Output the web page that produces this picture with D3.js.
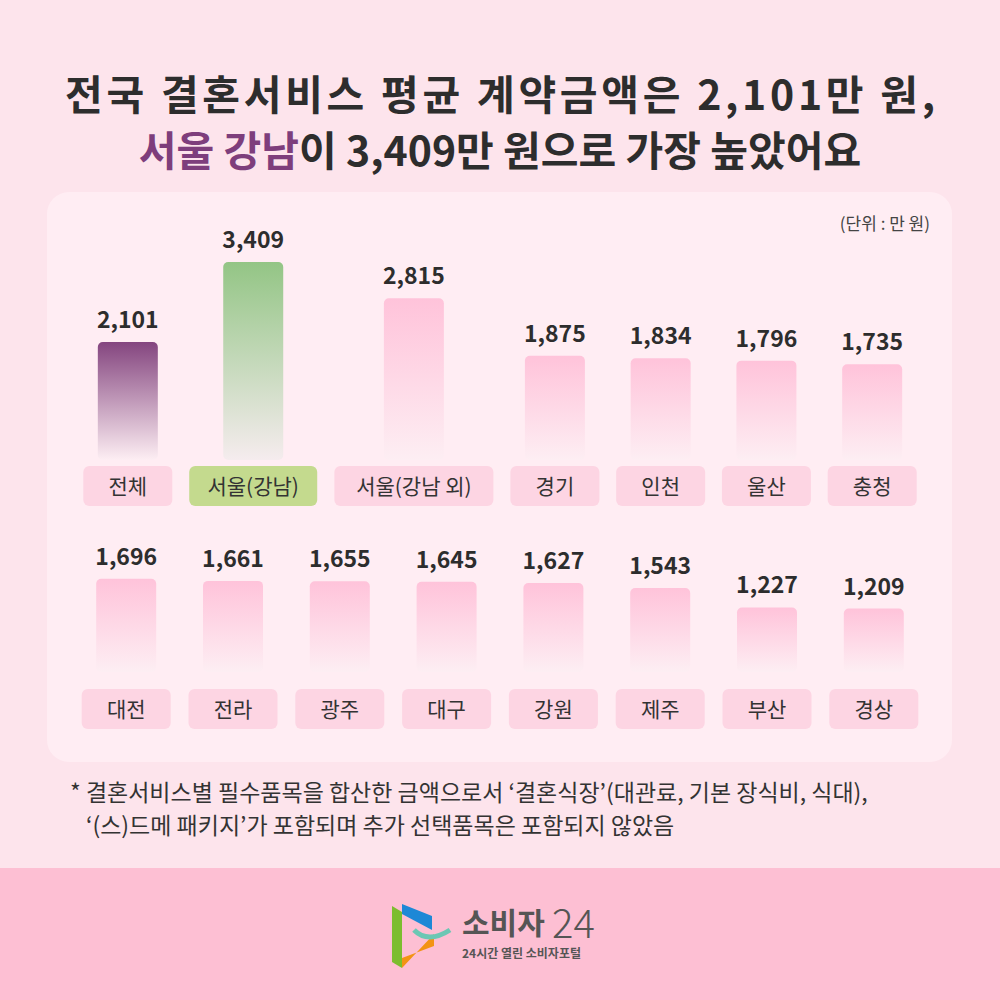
<!DOCTYPE html>
<html><head><meta charset="utf-8">
<script src="https://cdn.jsdelivr.net/npm/d3@7"></script>
<style>body{margin:0;background:#fde4ec;font-family:"Noto Sans CJK KR","Noto Sans",sans-serif}</style>
</head><body><div id="chart"></div>
<script>
const row1Names = ["전체", "서울(강남)", "서울(강남 외)", "경기", "인천", "울산", "충청"];
const row1Values = [2101, 3409, 2815, 1875, 1834, 1796, 1735];
const row2Names = ["대전", "전라", "광주", "대구", "강원", "제주", "부산", "경상"];
const row2Values = [1696, 1661, 1655, 1645, 1627, 1543, 1227, 1209];

const svg = d3.select("#chart").append("svg").attr("width", 1000).attr("height", 1000);
const defs = svg.append("defs");

function grad(id, top, bottom) {
    const g = defs.append("linearGradient").attr("id", id).attr("x1", 0).attr("y1", 0).attr("x2", 0).attr("y2", 1);
    g.append("stop").attr("offset", "0%").attr("stop-color", top);
    g.append("stop").attr("offset", "100%").attr("stop-color", bottom);
}
grad("gPurple", "#84457f", "#fdeef3");
grad("gGreen", "#93c585", "#f5ecee");
grad("gPink", "#ffc3da", "#fdeef3");

svg.append("rect").attr("width", 1000).attr("height", 1000).attr("fill", "#fde4ec");
svg.append("rect").attr("y", 868).attr("width", 1000).attr("height", 132).attr("fill", "#fdbfd3");
svg.append("rect").attr("x", 47).attr("y", 192).attr("width", 905).attr("height", 570)
    .attr("rx", 22).attr("fill", "#ffedf3");

// title
const title = svg.append("g").attr("font-weight", 700).attr("font-size", 41)
    .attr("fill", "#2d2d2d").attr("text-anchor", "middle");
title.append("text").attr("x", 500).attr("y", 110).attr("textLength", 870).text("전국 결혼서비스 평균 계약금액은 2,101만 원,");
const t2 = title.append("text").attr("x", 500).attr("y", 166);
t2.append("tspan").attr("fill", "#7e3e7c").text("서울 강남");
t2.append("tspan").text("이 3,409만 원으로 가장 높았어요");

svg.append("text").attr("x", 930).attr("y", 230).attr("text-anchor", "end")
    .attr("font-size", 17).attr("fill", "#444").text("(단위 : 만 원)");

const y = d3.scaleLinear().domain([171, 3409]).range([0, 198]);
const fmt = d3.format(",");

function drawRow(names, values, centers, labelWidths, baseline, labelTop) {
    const g = svg.append("g");
    names.forEach((n, i) => {
        const cx = centers[i];
        const h = y(values[i]);
        const fill = i === 0 && names === row1Names ? "url(#gPurple)" :
            (i === 1 && names === row1Names ? "url(#gGreen)" : "url(#gPink)");
        g.append("rect").attr("x", cx - 30).attr("y", baseline - h).attr("width", 60)
            .attr("height", h).attr("rx", 5).attr("fill", fill);
        g.append("text").attr("x", cx).attr("y", baseline - h - 14).attr("text-anchor", "middle")
            .attr("font-size", 23).attr("font-weight", 700).attr("fill", "#2d2d2d").text(fmt(values[i]));
        const isG = names === row1Names && i === 1;
        g.append("rect").attr("x", cx - labelWidths[i] / 2).attr("y", labelTop)
            .attr("width", labelWidths[i]).attr("height", 40).attr("rx", 6)
            .attr("fill", isG ? "#c4da8e" : "#fdd5e3");
        g.append("text").attr("x", cx).attr("y", labelTop + 28).attr("text-anchor", "middle")
            .attr("font-size", 21).attr("fill", "#333").text(n);
    });
}

// row 1 layout: boxes placed sequentially, widths follow label length
const w1 = row1Names.map(n => n.length <= 2 ? 89 : (n.length <= 6 ? 128 : 159));
const c1 = [];
let x = 83;
w1.forEach((w) => { c1.push(x + w / 2); x += w + 16; });
const scale1 = (917 - 83) / (x - 16 - 83);
const c1s = c1.map(c => 83 + (c - 83) * scale1);
const w1s = w1.map(w => w * Math.min(1, scale1));
drawRow(row1Names, row1Values, c1s, w1s, 460, 466);

const xb = d3.scaleBand().domain(row2Names).range([76, 924]).paddingInner(0.16).paddingOuter(0.05);
drawRow(row2Names, row2Values, row2Names.map(n => xb(n) + xb.bandwidth() / 2),
    row2Names.map(() => 89), 672, 689);

// footnote
const fn = svg.append("g").attr("font-size", 23).attr("fill", "#333");
fn.append("text").attr("x", 70).attr("y", 801)
    .text("* 결혼서비스별 필수품목을 합산한 금액으로서 ‘결혼식장’(대관료, 기본 장식비, 식대),");
fn.append("text").attr("x", 86).attr("y", 834)
    .text("‘(스)드메 패키지’가 포함되며 추가 선택품목은 포함되지 않았음");

// logo
const lg = svg.append("g");
lg.append("path").attr("d", "M392 906 L392 962 L402 968 L402 912 Z").attr("fill", "#7cbd2f");
lg.append("path").attr("d", "M402 904 L432 916 L432 930 L402 914 Z").attr("fill", "#1e88d6");
lg.append("path").attr("d", "M402 958 L434 946 L434 934 L402 968 Z").attr("fill", "#f39314");
lg.append("path").attr("d", "M414 930 Q428 944 450 930").attr("fill", "none").attr("stroke", "#6cc7b4").attr("stroke-width", 5);
lg.append("text").attr("x", 462).attr("y", 934).attr("font-size", 30).attr("font-weight", 700)
    .attr("fill", "#555").text("소비자");
lg.append("text").attr("x", 552).attr("y", 938).attr("font-size", 40).attr("font-weight", 300)
    .attr("fill", "#555").text("24");
lg.append("text").attr("x", 462).attr("y", 958).attr("font-size", 12).attr("font-weight", 700)
    .attr("fill", "#555").text("24시간 열린 소비자포털");
</script></body></html>
